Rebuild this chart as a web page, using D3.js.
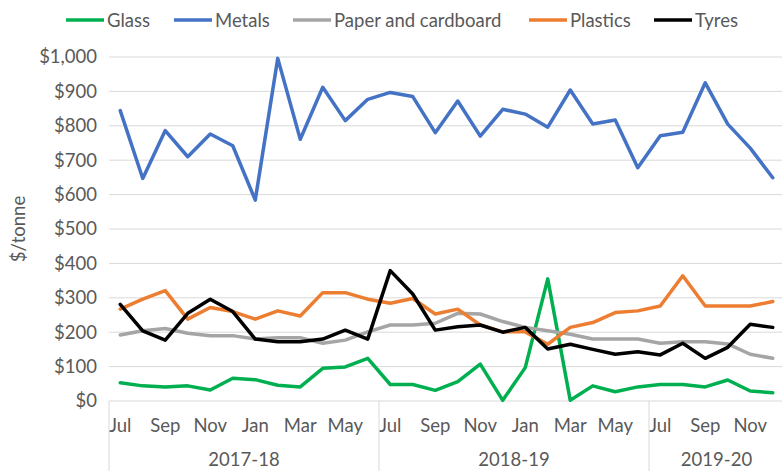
<!DOCTYPE html>
<html><head><meta charset="utf-8">
<script src="https://cdn.jsdelivr.net/npm/d3@7"></script>
<style>body{margin:0;background:#fff}svg{display:block}text{font-family:Lato,"Open Sans",sans-serif;fill:#595959}</style>
</head><body><svg id="c" width="782" height="471"></svg>
<script>
const months = ["Jul","Aug","Sep","Oct","Nov","Dec","Jan","Feb","Mar","Apr","May","Jun",
  "Jul","Aug","Sep","Oct","Nov","Dec","Jan","Feb","Mar","Apr","May","Jun",
  "Jul","Aug","Sep","Oct","Nov","Dec"];
const years = ["2017-18","2018-19","2019-20"];
const yearLengths = [12,12,6];
const seriesNames = ["Glass","Metals","Paper and cardboard","Plastics","Tyres"];
const seriesColors = ["#00B050","#4472C4","#A5A5A5","#ED7D31","#000000"];
const glass = [53,44,41,44,32,66,62,46,41,95,99,124, 48,48,31,56,107,2,97,355,2,44,27,41, 48,48,41,61,29,24];
const metals = [844,647,786,710,776,742,584,996,761,912,815,877, 897,885,780,872,770,848,834,796,904,805,817,678, 771,781,925,805,735,649];
const paper = [192,204,211,197,190,190,180,184,184,168,177,201, 221,221,226,255,253,231,214,204,194,180,180,180, 168,172,172,166,136,124];
const plastics = [267,296,321,238,272,260,238,262,247,315,315,296, 284,298,253,267,221,201,201,165,214,228,257,262, 276,364,276,276,276,289];
const tyres = [281,204,177,255,296,260,180,172,172,180,206,180, 379,311,206,216,221,200,214,151,165,150,136,143, 134,168,124,156,223,214];
const yTicks = [0,100,200,300,400,500,600,700,800,900,1000];
const allSeries = [glass, metals, paper, plastics, tyres];

(function(){
const FS = 18.5;
const svg = d3.select("#c");
const pL = 109, pR = 784, pT = 57, pB = 401;
const x = d3.scaleBand().domain(d3.range(months.length)).range([pL, pR]);
const y = d3.scaleLinear().domain([0,1000]).range([pB, pT]);

svg.append("g").selectAll("line").data(yTicks.filter(d=>d>0)).join("line")
  .attr("x1", pL).attr("x2", pR).attr("y1", d=>y(d)).attr("y2", d=>y(d))
  .attr("stroke", "#d9d9d9").attr("stroke-width", 1);

const yAxis = d3.axisLeft(y).tickValues(yTicks).tickSize(0).tickPadding(12)
  .tickFormat(d => "$" + d3.format(",")(d));
const ga = svg.append("g").attr("transform", `translate(${pL},0)`).call(yAxis);
ga.select(".domain").remove();
ga.selectAll("text").attr("font-size", FS).style("font-family","Lato,sans-serif").attr("fill","#595959");

svg.append("text").attr("transform", "translate(25,229) rotate(-90)")
  .attr("text-anchor","middle").attr("font-size",FS).text("$/tonne");

svg.append("line").attr("x1",pL).attr("x2",pR).attr("y1",pB).attr("y2",pB)
  .attr("stroke","#d9d9d9").attr("stroke-width",1);

let start = 0;
const bounds = [];
yearLengths.forEach((n)=>{ bounds.push([start, start+n]); start += n; });
bounds.forEach((b,i)=>{
  const x0 = x(b[0]);
  svg.append("line").attr("x1",x0).attr("x2",x0).attr("y1",pB).attr("y2",471)
    .attr("stroke","#d9d9d9").attr("stroke-width",1);
  const x1 = b[1] < months.length ? x(b[1]) : pR;
  svg.append("text").attr("x",(x0+x1)/2).attr("y",466).attr("text-anchor","middle")
    .attr("font-size",FS).text(years[i]);
});

svg.append("g").selectAll("text").data(months.map((m,i)=>({m,i})).filter(d=>d.i%2===0)).join("text")
  .attr("x", d=>x(d.i)+x.bandwidth()/2).attr("y", 432).attr("text-anchor","middle")
  .attr("font-size",FS).text(d=>d.m);

const line = d3.line().x((d,i)=>x(i)+x.bandwidth()/2).y(d=>y(d));
allSeries.forEach((s,k)=>{
  svg.append("path").datum(s).attr("d", line).attr("fill","none")
    .attr("stroke", seriesColors[k]).attr("stroke-width", 3.5)
    .attr("stroke-linejoin","round").attr("stroke-linecap","round");
});

const legX = [66,174,293,529,654];
seriesNames.forEach((n,k)=>{
  const g = svg.append("g");
  g.append("line").attr("x1",legX[k]).attr("x2",legX[k]+38).attr("y1",20).attr("y2",20)
    .attr("stroke",seriesColors[k]).attr("stroke-width",3.5);
  g.append("text").attr("x",legX[k]+41).attr("y",27).attr("font-size",FS).text(n);
});
})();
</script></body></html>
